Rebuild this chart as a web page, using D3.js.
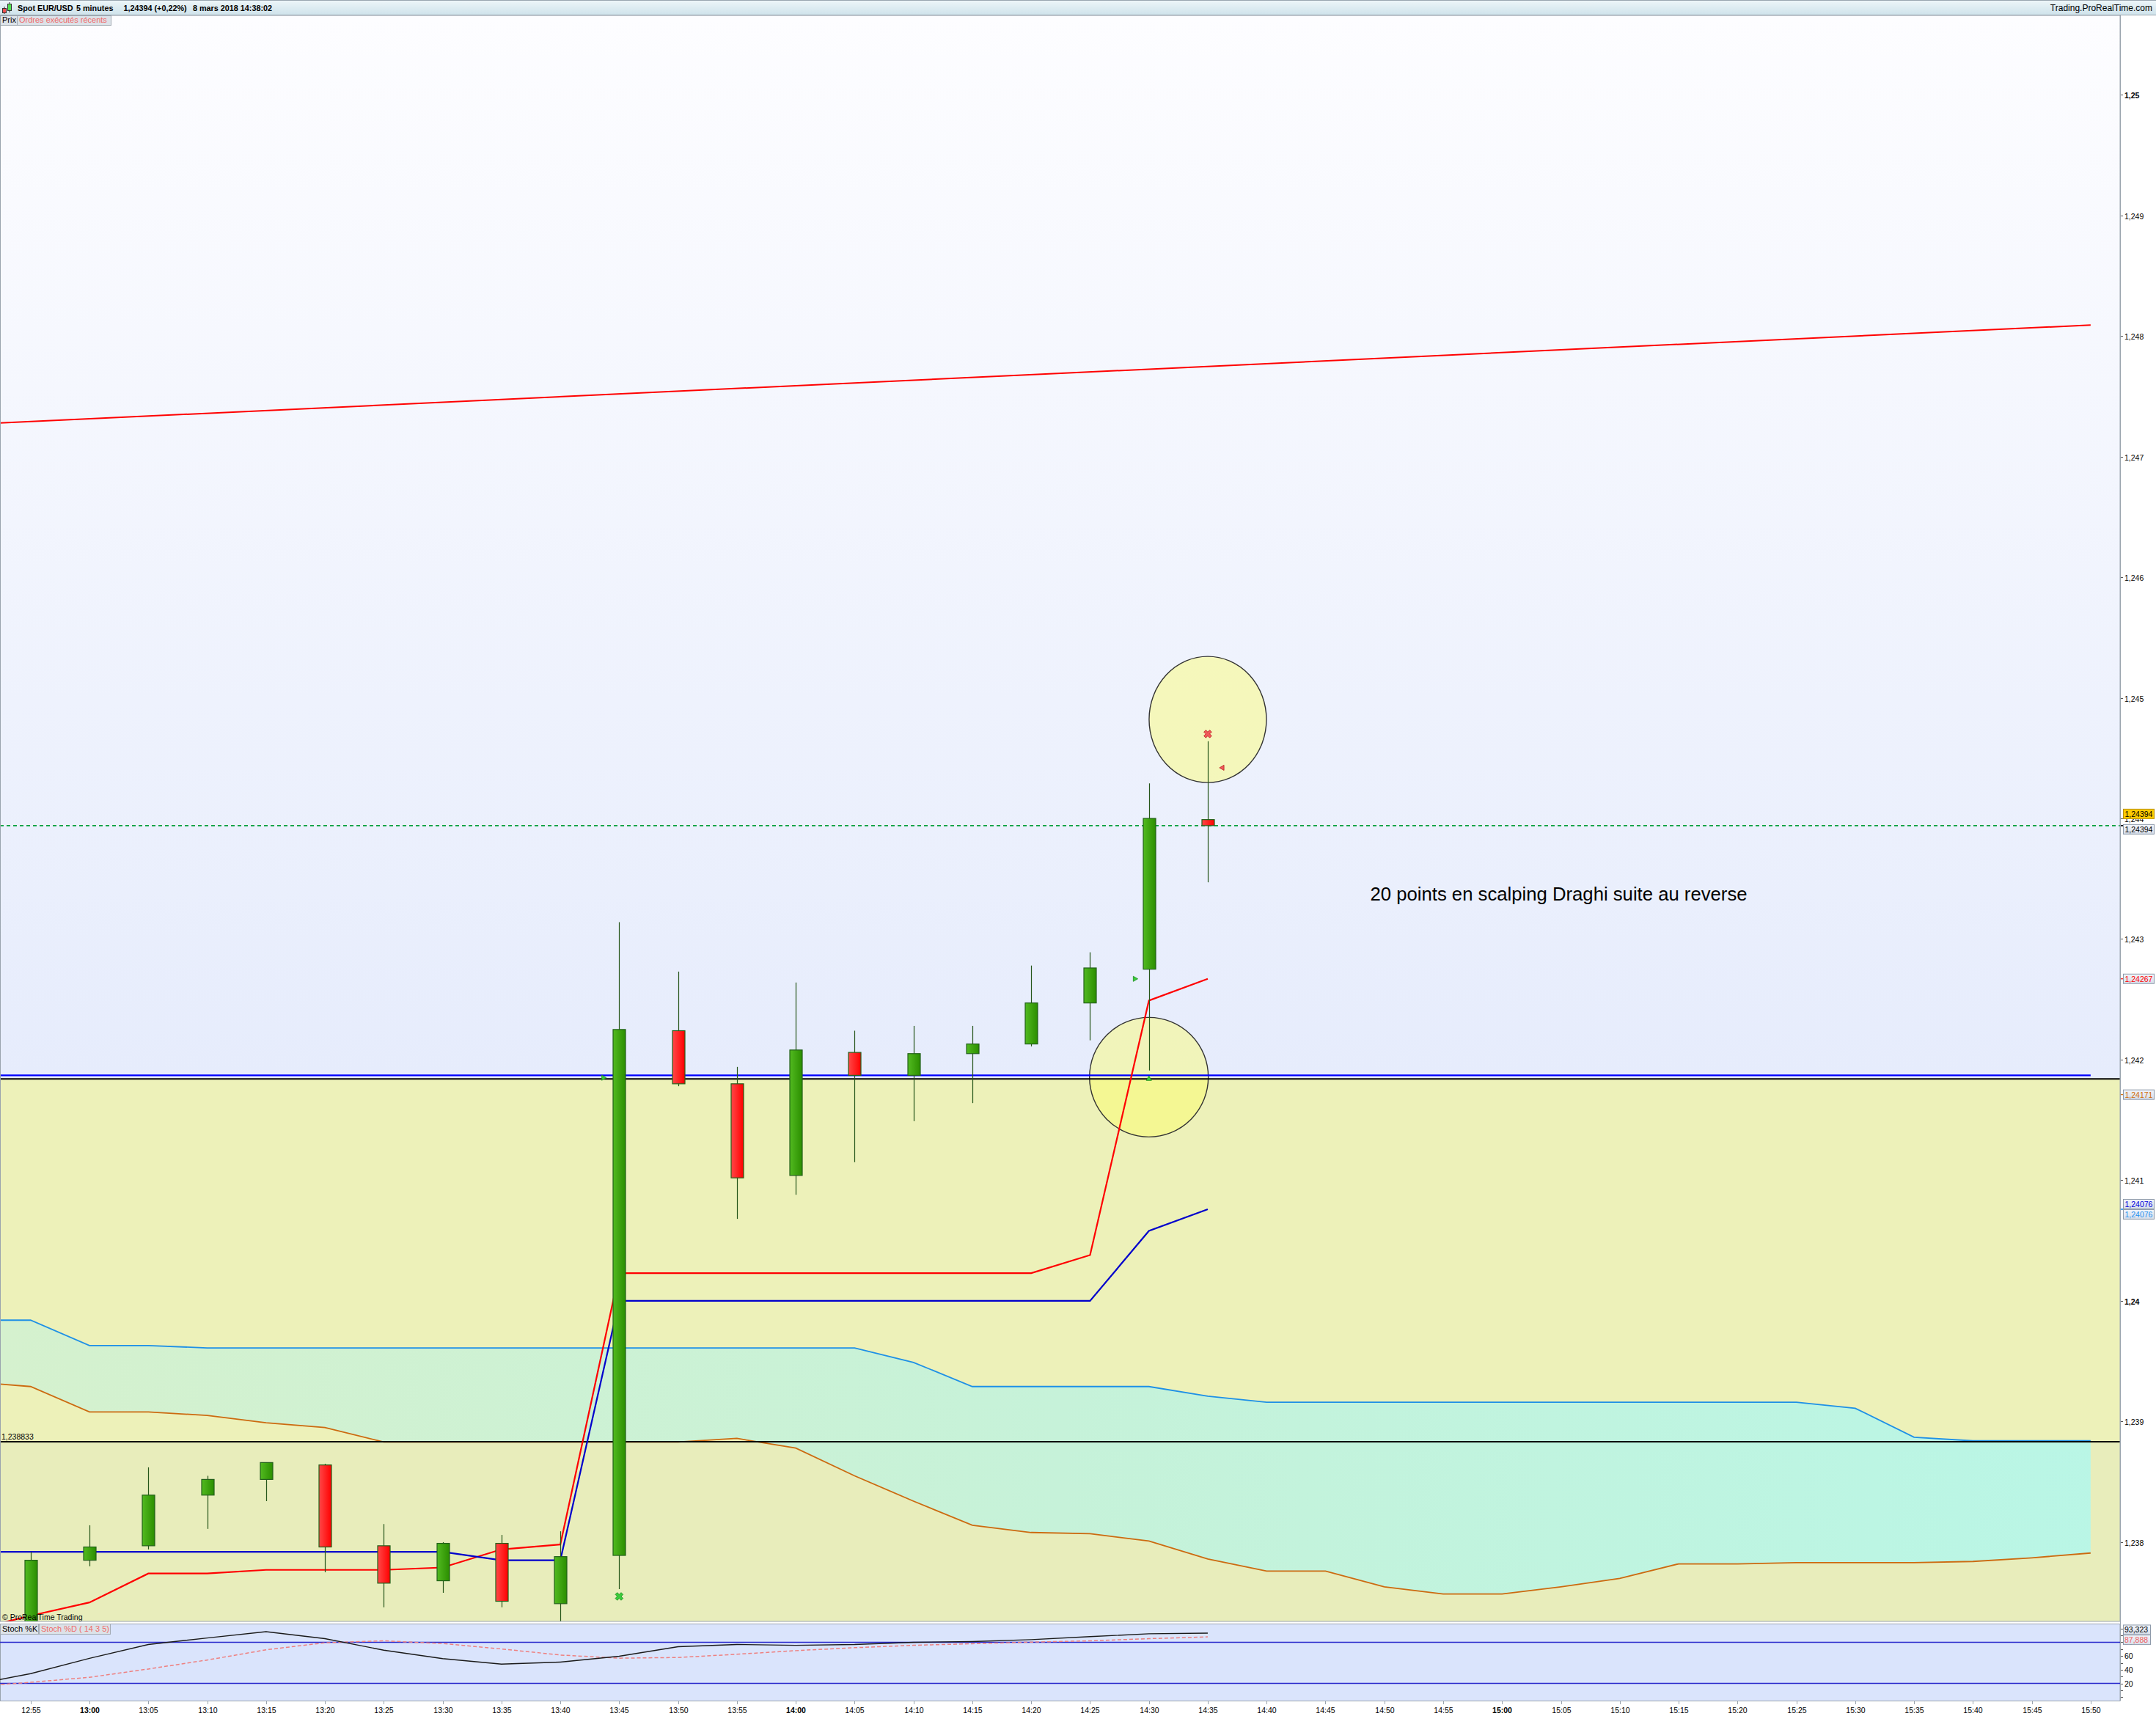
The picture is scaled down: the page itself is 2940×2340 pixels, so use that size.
<!DOCTYPE html>
<html><head><meta charset="utf-8">
<script src="https://cdn.jsdelivr.net/npm/d3@7"></script>
<style>html,body{margin:0;padding:0;background:#fff;}svg{display:block;font-family:"Liberation Sans",Arial,sans-serif;}</style>
</head><body><svg id="chart" width="2940" height="2340"></svg>
<script>
// ---------------- DATA ----------------
const times = ["12:55","13:00","13:05","13:10","13:15","13:20","13:25","13:30","13:35","13:40","13:45","13:50","13:55","14:00","14:05","14:10","14:15","14:20","14:25","14:30","14:35","14:40","14:45","14:50","14:55","15:00","15:05","15:10","15:15","15:20","15:25","15:30","15:35","15:40","15:45","15:50"];
const openP  = [1.23720,1.23785,1.23797,1.23839,1.23852,1.23864,1.23797,1.23768,1.23799,1.23749,1.23789,1.24224,1.24180,1.24104,1.24206,1.24187,1.24205,1.24213,1.24247,1.24275,1.24399];
const highP  = [1.23792,1.23814,1.23862,1.23855,1.23866,1.23865,1.23815,1.23800,1.23806,1.23809,1.24314,1.24273,1.24194,1.24264,1.24224,1.24228,1.24228,1.24278,1.24289,1.24429,1.24464];
const lowP   = [1.23710,1.23780,1.23794,1.23811,1.23834,1.23775,1.23746,1.23758,1.23746,1.23730,1.23761,1.24178,1.24068,1.24088,1.24115,1.24149,1.24164,1.24211,1.24216,1.24191,1.24347];
const closeP = [1.23785,1.23796,1.23839,1.23852,1.23866,1.23796,1.23766,1.23799,1.23751,1.23788,1.24225,1.24180,1.24102,1.24208,1.24187,1.24205,1.24213,1.24247,1.24276,1.24400,1.24394];
const tenkan = [1.23739,1.23750,1.23774,1.23774,1.23777,1.23777,1.23777,1.23779,1.23794,1.23798,1.24023,1.24023,1.24023,1.24023,1.24023,1.24023,1.24023,1.24023,1.24038,1.24249,1.24267];
const tenkanPrev = 1.23727;
const kijun  = [1.23792,1.23792,1.23792,1.23792,1.23792,1.23792,1.23792,1.23792,1.23785,1.23785,1.24000,1.24000,1.24000,1.24000,1.24000,1.24000,1.24000,1.24000,1.24000,1.24058,1.24076];
const senkouA = [1.23984,1.23963,1.23963,1.23961,1.23961,1.23961,1.23961,1.23961,1.23961,1.23961,1.23961,1.23961,1.23961,1.23961,1.23961,1.23949,1.23929,1.23929,1.23929,1.23929,1.23921,1.23916,1.23916,1.23916,1.23916,1.23916,1.23916,1.23916,1.23916,1.23916,1.23916,1.23911,1.23887,1.23884,1.23884,1.23884];
const senkouB = [1.23929,1.23908,1.23908,1.23905,1.23899,1.23895,1.23883,1.23883,1.23883,1.23883,1.23883,1.23883,1.23886,1.23878,1.23855,1.23834,1.23814,1.23808,1.23807,1.23801,1.23786,1.23776,1.23776,1.23763,1.23757,1.23757,1.23763,1.23770,1.23782,1.23782,1.23783,1.23783,1.23783,1.23784,1.23787,1.23791];
const senkouAPrev = 1.23984, senkouBPrev = 1.23933;
const stochK = [34.2,56.5,76.7,86.3,95.5,85.3,68.5,56.1,48.2,51.1,59.6,73.5,76.8,75.6,76.8,80.0,81.1,83.9,88.2,92.4,93.323];
const stochD = [21.5,28.9,41.0,54.1,69.0,79.3,82.1,78.2,70.3,61.4,56.8,57.8,62.5,67.8,72.1,75.6,77.9,80.3,82.1,85.3,87.888];
const stochKPrev = 17.9, stochDPrev = 15.3;
const priceTicks = [1.238,1.239,1.240,1.241,1.242,1.243,1.244,1.245,1.246,1.247,1.248,1.249,1.250];
const stochTicks = [20,40,60,80];
const trendLine = [{time:"12:55", price:1.24729},{time:"15:50", price:1.24809}];
const levelBlue = {price:1.24187, to:"15:50"};
const levelsBlack = [1.24184, 1.238833];
const lastPrice = 1.24394;
const zoneTop = 1.24184, zoneMid = 1.238833;
const circles = [{bar:20, price:1.24482},{bar:19, price:1.241855}];
const markers = [
  {bar:10, price:1.23755, shape:"x", color:"green"},
  {bar:20, price:1.24470, shape:"x", color:"red"},
  {bar:20.25, price:1.24442, shape:"left", color:"red"},
  {bar:18.76, price:1.24267, shape:"right", color:"green"},
  {bar:9.73, price:1.24185, shape:"right", color:"green"},
  {bar:19, price:1.24184, shape:"up", color:"green"}
];
const annotation = {text:"20 points en scalping Draghi suite au reverse", bar:22.76, price:1.24332};
const priceLabels = [
  {text:"1,24394", price:1.24394, color:"#000000", bg:"#FFCC00"},
  {text:"1,24394", price:1.24394, color:"#000000", bg:null},
  {text:"1,24267", price:1.24267, color:"#FF0000", bg:null},
  {text:"1,24171", price:1.24171, color:"#D06A00", bg:null},
  {text:"1,24076", price:1.24076, color:"#0000DD", bg:null},
  {text:"1,24076", price:1.24076, color:"#1E90F0", bg:null}
];
const stochLabels = [{text:"93,323", value:93.323, color:"#000000"},{text:"87,888", value:87.888, color:"#F06060"}];
const headerParts = ["Spot EUR/USD","5 minutes","1,24394 (+0,22%)","8 mars 2018 14:38:02"];

// ---------------- LAYOUT ----------------
const W = 2940, H = 2340, axisX = 2891;
const pTop = 21, pBot = 2211, sTop = 2214, sBot = 2319;
const svg = d3.select("#chart");
const defs = svg.append("defs");
const x = d3.scaleLinear().domain([-0.52, 35.5]).range([0, axisX]);
const y = d3.scaleLinear().domain([1.237343, 1.250657]).range([pBot, pTop]);
const ys = d3.scaleLinear().domain([0, 100]).range([2314.2, 2220.8]);
const idx = t => times.indexOf(t);

function lg(id, x1, y1, x2, y2, stops, units) {
  const g = defs.append("linearGradient").attr("id", id).attr("x1", x1).attr("y1", y1).attr("x2", x2).attr("y2", y2);
  if (units) g.attr("gradientUnits", units);
  stops.forEach(s => g.append("stop").attr("offset", s[0]).attr("stop-color", s[1]));
}
lg("bgPrice", 0, pTop, 0, pBot, [[0, "#FDFDFF"], [0.66, "#E6ECFC"], [1, "#E0E8FC"]], "userSpaceOnUse");
lg("cloud", 0, 0, axisX, 0, [[0, "#D5F1CE"], [0.5, "#C6F2D9"], [1, "#B9F6E6"]], "userSpaceOnUse");
lg("gBody", 0, 0, 1, 0, [[0, "#52BA20"], [1, "#2B8E00"]]);
lg("rBody", 0, 0, 1, 0, [[0, "#FF4848"], [1, "#FF0000"]]);
lg("hdr", 0, 0, 0, 1, [[0, "#EEF6F9"], [1, "#CFE3EB"]]);
lg("lbl", 0, 0, 0, 1, [[0, "#F2F5FA"], [1, "#D6DEEA"]]);
defs.append("clipPath").attr("id", "clipP").append("rect").attr("x", 0).attr("y", pTop).attr("width", axisX).attr("height", pBot - pTop);
defs.append("clipPath").attr("id", "clipS").append("rect").attr("x", 0).attr("y", sTop).attr("width", axisX).attr("height", sBot - sTop);

svg.append("rect").attr("width", W).attr("height", H).attr("fill", "#FFFFFF");

// header
svg.append("rect").attr("x", 0).attr("y", 0).attr("width", W).attr("height", 20).attr("fill", "url(#hdr)");
svg.append("line").attr("x1", 0).attr("x2", W).attr("y1", 0.5).attr("y2", 0.5).attr("stroke", "#9AA6B0");
svg.append("line").attr("x1", 0).attr("x2", W).attr("y1", 20.5).attr("y2", 20.5).attr("stroke", "#9AA6B0");
// icon
svg.append("line").attr("x1", 6).attr("x2", 6).attr("y1", 9).attr("y2", 19).attr("stroke", "#333");
svg.append("rect").attr("x", 3.5).attr("y", 11.5).attr("width", 5).attr("height", 6).attr("fill", "#F05050").attr("stroke", "#333");
svg.append("line").attr("x1", 13).attr("x2", 13).attr("y1", 3).attr("y2", 17).attr("stroke", "#333");
svg.append("rect").attr("x", 10.5).attr("y", 5.5).attr("width", 5).attr("height", 9).attr("fill", "#50E050").attr("stroke", "#333");
const hdrX = [24, 104, 168.5, 263];
headerParts.forEach((t, i) => svg.append("text").attr("x", hdrX[i]).attr("y", 15).attr("font-size", 10.8).attr("font-weight", "bold").attr("fill", "#000").text(t));
svg.append("text").attr("x", 2935).attr("y", 15).attr("font-size", 12).attr("text-anchor", "end").attr("fill", "#000").text("Trading.ProRealTime.com");

// ---------------- PRICE PANEL ----------------
const P = svg.append("g").attr("clip-path", "url(#clipP)");
P.append("rect").attr("x", 0).attr("y", pTop).attr("width", axisX).attr("height", pBot - pTop).attr("fill", "url(#bgPrice)");
P.append("rect").attr("x", 0).attr("y", y(zoneTop)).attr("width", axisX).attr("height", y(zoneMid) - y(zoneTop)).attr("fill", "#EDF1B9");
P.append("rect").attr("x", 0).attr("y", y(zoneMid)).attr("width", axisX).attr("height", pBot - y(zoneMid)).attr("fill", "#E8EDBB");

// cloud
const cloudData = [{i: -1, a: senkouAPrev, b: senkouBPrev}].concat(senkouA.map((a, i) => ({i, a, b: senkouB[i]})));
P.append("path").datum(cloudData).attr("fill", "url(#cloud)")
  .attr("d", d3.area().x(d => x(d.i)).y0(d => y(d.b)).y1(d => y(d.a)));

// circles
const radii = [[80, 86], [81, 81.5]];
circles.forEach((c, k) => P.append("ellipse").attr("cx", x(c.bar)).attr("cy", y(c.price))
  .attr("rx", radii[k][0]).attr("ry", radii[k][1]).attr("fill", "rgb(255,255,93)").attr("fill-opacity", 0.41)
  .attr("stroke", "#333").attr("stroke-width", 1.4));

const line = d3.line().x(d => x(d[0])).y(d => y(d[1]));
P.append("path").datum([[-1, senkouAPrev]].concat(senkouA.map((v, i) => [i, v]))).attr("fill", "none").attr("stroke", "#1E90E6").attr("stroke-width", 1.8).attr("d", line);
P.append("path").datum([[-1, senkouBPrev]].concat(senkouB.map((v, i) => [i, v]))).attr("fill", "none").attr("stroke", "#CC6A10").attr("stroke-width", 1.8).attr("d", line);

// horizontal levels
levelsBlack.forEach(p => P.append("line").attr("x1", 0).attr("x2", axisX).attr("y1", y(p)).attr("y2", y(p)).attr("stroke", "#000").attr("stroke-width", 2));
P.append("line").attr("x1", 0).attr("x2", x(idx(levelBlue.to))).attr("y1", y(levelBlue.price)).attr("y2", y(levelBlue.price)).attr("stroke", "#0000FF").attr("stroke-width", 2.2);
P.append("line").attr("x1", 0).attr("x2", axisX).attr("y1", y(lastPrice)).attr("y2", y(lastPrice)).attr("stroke", "#00A040").attr("stroke-width", 1.6).attr("stroke-dasharray", "5,4");

// trend line (extended to left edge)
const t0 = idx(trendLine[0].time), t1 = idx(trendLine[1].time);
const slope = (trendLine[1].price - trendLine[0].price) / (t1 - t0);
const xl = x.domain()[0];
P.append("line").attr("x1", x(xl)).attr("y1", y(trendLine[0].price + slope * (xl - t0)))
  .attr("x2", x(t1)).attr("y2", y(trendLine[1].price)).attr("stroke", "#FF0000").attr("stroke-width", 2);

// ichimoku tenkan / kijun
P.append("path").datum([[-1, tenkanPrev]].concat(tenkan.map((v, i) => [i, v]))).attr("fill", "none").attr("stroke", "#FF0000").attr("stroke-width", 2.2).attr("d", line);
P.append("path").datum([[-1, kijun[0]]].concat(kijun.map((v, i) => [i, v]))).attr("fill", "none").attr("stroke", "#0000CC").attr("stroke-width", 2.2).attr("d", line);

// candles
const candles = openP.map((o, i) => ({i, o, h: highP[i], l: lowP[i], c: closeP[i]}));
const cg = P.append("g");
candles.forEach(d => {
  const cx = Math.round(x(d.i)) + 0.5;
  cg.append("line").attr("x1", cx).attr("x2", cx).attr("y1", y(d.h)).attr("y2", y(d.l)).attr("stroke", "#26561A").attr("stroke-width", 1.2);
  const top = y(Math.max(d.o, d.c)), bot = y(Math.min(d.o, d.c));
  cg.append("rect").attr("x", cx - 8.5).attr("y", top).attr("width", 17).attr("height", Math.max(2, bot - top))
    .attr("fill", d.c >= d.o ? "url(#gBody)" : "url(#rBody)").attr("stroke", "#22601A").attr("stroke-width", 1.2);
});

// markers
markers.forEach(m => {
  const mx = x(m.bar), my = y(m.price);
  const fill = m.color === "green" ? "#3CCB3C" : "#F05A5A";
  const stroke = m.color === "green" ? "#1B8F1B" : "#B82020";
  if (m.shape === "x") {
    P.append("path").attr("d", d3.symbol(d3.symbolCross, 70)()).attr("transform", `translate(${mx},${my}) rotate(45)`)
      .attr("fill", fill).attr("stroke", stroke).attr("stroke-width", 0.8);
  } else {
    const rot = m.shape === "right" ? 90 : m.shape === "left" ? -90 : 0;
    P.append("path").attr("d", d3.symbol(d3.symbolTriangle, 22)()).attr("transform", `translate(${mx},${my}) rotate(${rot})`)
      .attr("fill", fill).attr("stroke", stroke).attr("stroke-width", 0.8);
  }
});

// annotation text
P.append("text").attr("x", x(annotation.bar)).attr("y", y(annotation.price)).attr("font-size", 25.7).attr("fill", "#000").text(annotation.text);
P.append("text").attr("x", 2).attr("y", y(zoneMid) - 2.5).attr("font-size", 10.5).attr("fill", "#000").text("1,238833");
P.append("text").attr("x", 3).attr("y", pBot - 2.5).attr("font-size", 10.5).attr("fill", "#000").text("© ProRealTime Trading");

// tabs
function tab(x0, w, y0, h, txt, col) {
  svg.append("rect").attr("x", x0 + 0.5).attr("y", y0 + 0.5).attr("width", w).attr("height", h).attr("fill", "#DCE2E8").attr("stroke", "#A4ACB4");
  svg.append("text").attr("x", x0 + 3).attr("y", y0 + h - 3).attr("font-size", 11).attr("fill", col).text(txt);
}
tab(0, 23, 21, 13, "Prix", "#000");
tab(23, 128, 21, 13, "Ordres exécutés récents", "#F06A6A");

// price panel border
svg.append("rect").attr("x", 0.5).attr("y", pTop).attr("width", axisX - 0.5).attr("height", pBot - pTop).attr("fill", "none").attr("stroke", "#9AA4AE");

// price axis
const ax = svg.append("g");
priceTicks.forEach(p => {
  const yy = Math.round(y(p)) + 0.5;
  ax.append("line").attr("x1", axisX).attr("x2", axisX + 4).attr("y1", yy).attr("y2", yy).attr("stroke", "#555");
  const bold = Math.abs(p * 100 - Math.round(p * 100)) < 1e-9;
  ax.append("text").attr("x", axisX + 6).attr("y", yy + 4).attr("font-size", 10.5).attr("font-weight", bold ? "bold" : "normal")
    .attr("fill", "#000").text(d3.format(bold ? ".2f" : ".3f")(p).replace(".", ","));
});
const lblShift = [-16, 5, 0, 0, -7, 7];
const tickCol = ["#000", "#000", "#FF0000", "#D06A00", "#1E90F0", "#1E90F0"];
priceLabels.forEach((l, k) => {
  const yv = y(l.price);
  ax.append("line").attr("x1", axisX).attr("x2", axisX + 4).attr("y1", yv).attr("y2", yv).attr("stroke", tickCol[k]).attr("stroke-width", 1.2);
  const yc = yv + lblShift[k];
  ax.append("rect").attr("x", 2895.5).attr("y", yc - 6.5).attr("width", 42).attr("height", 13)
    .attr("fill", l.bg || "url(#lbl)").attr("stroke", l.bg ? "#B89000" : "#8E9AAA");
  ax.append("text").attr("x", 2897.5).attr("y", yc + 4).attr("font-size", 10.5).attr("fill", l.color).text(l.text);
});

// ---------------- STOCH PANEL ----------------
svg.append("rect").attr("x", 0.5).attr("y", sTop + 0.5).attr("width", axisX - 0.5).attr("height", sBot - sTop).attr("fill", "#DAE4FC").attr("stroke", "#9AA4AE");
const S = svg.append("g").attr("clip-path", "url(#clipS)");
[20, 80].forEach(v => S.append("line").attr("x1", 0).attr("x2", axisX).attr("y1", ys(v)).attr("y2", ys(v)).attr("stroke", "#2626CC").attr("stroke-width", 1.4));
const sline = d3.line().x(d => x(d[0])).y(d => ys(d[1]));
S.append("path").datum([[-1, stochDPrev]].concat(stochD.map((v, i) => [i, v]))).attr("fill", "none").attr("stroke", "#EE8080").attr("stroke-width", 1.5).attr("stroke-dasharray", "5,3").attr("d", sline);
S.append("path").datum([[-1, stochKPrev]].concat(stochK.map((v, i) => [i, v]))).attr("fill", "none").attr("stroke", "#1A1A1A").attr("stroke-width", 1.4).attr("d", sline);
tab(0, 52, sTop, 14, "Stoch %K", "#000");
tab(53, 97, sTop, 14, "Stoch %D ( 14 3 5)", "#F06A6A");

// stoch axis
d3.range(0, 101, 10).forEach(v => {
  const yy = Math.round(ys(v)) + 0.5;
  if (yy > sTop && yy < sBot) ax.append("line").attr("x1", axisX).attr("x2", axisX + 4).attr("y1", yy).attr("y2", yy).attr("stroke", "#555");
});
stochTicks.forEach(v => ax.append("text").attr("x", axisX + 6).attr("y", ys(v) + 4).attr("font-size", 10.5).attr("fill", "#000").text(v));
const sShift = [-4.6, 4];
stochLabels.forEach((l, k) => {
  const yc = ys(l.value) + sShift[k];
  ax.append("rect").attr("x", 2895.5).attr("y", yc - 6.5).attr("width", 37).attr("height", 13).attr("fill", "url(#lbl)").attr("stroke", "#8E9AAA");
  ax.append("text").attr("x", 2897).attr("y", yc + 4).attr("font-size", 10.5).attr("fill", l.color).text(l.text);
});

// axis vertical line
svg.append("line").attr("x1", axisX + 0.5).attr("x2", axisX + 0.5).attr("y1", pTop).attr("y2", sBot).attr("stroke", "#9AA4AE");

// x axis
times.forEach((t, i) => {
  const xx = Math.round(x(i)) + 0.5;
  svg.append("line").attr("x1", xx).attr("x2", xx).attr("y1", sBot).attr("y2", sBot + 5).attr("stroke", "#9AA4AE");
  svg.append("text").attr("x", xx).attr("y", 2336).attr("text-anchor", "middle").attr("font-size", 10.5)
    .attr("font-weight", t.endsWith(":00") ? "bold" : "normal").attr("fill", "#000").text(t);
});
svg.append("line").attr("x1", 0).attr("x2", axisX).attr("y1", sBot + 0.5).attr("y2", sBot + 0.5).attr("stroke", "#9AA4AE");
</script></body></html>
